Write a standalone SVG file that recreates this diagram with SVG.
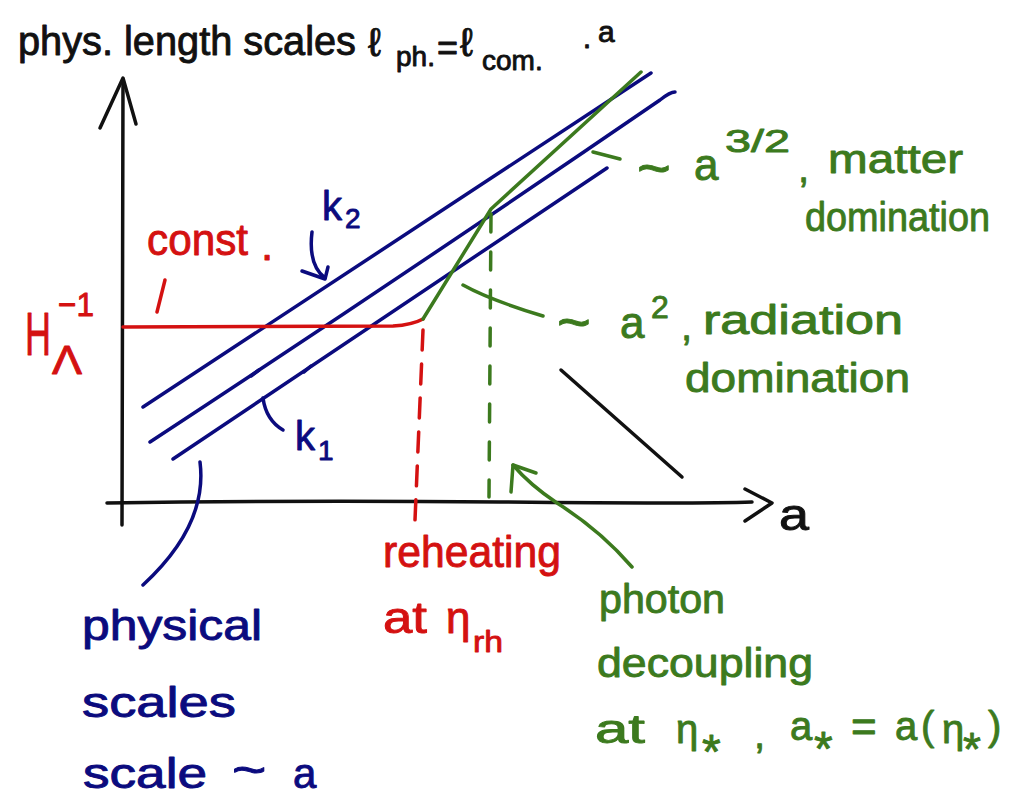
<svg xmlns="http://www.w3.org/2000/svg" width="1014" height="798" viewBox="0 0 1014 798">
<style>
.s{fill:none;stroke-linecap:round;stroke-linejoin:round;stroke-width:3.5}
.k{stroke:#111}.b{stroke:#0b0b7e}.r{stroke:#d41111}.g{stroke:#3c7a1e}
text{font-family:"Liberation Sans","DejaVu Sans",sans-serif;stroke-width:0.9;stroke-linejoin:round}
.tk{fill:#111;stroke:#111}.tb{fill:#0b0b7e;stroke:#0b0b7e}.tr{fill:#d41111;stroke:#d41111}.tg{fill:#3c7a1e;stroke:#3c7a1e}
</style>
<rect width="1014" height="798" fill="#fff"/>
<g id="title">
<text class="tk" font-size="40"><tspan x="18" y="55" textLength="338" lengthAdjust="spacingAndGlyphs">phys. length scales</tspan><tspan x="368" y="56">ℓ</tspan><tspan x="396" y="66" font-size="28">ph.</tspan><tspan x="437" y="60" font-size="36">=</tspan><tspan x="460" y="56">ℓ</tspan><tspan x="482" y="70" font-size="28">com.</tspan><tspan x="582" y="54" font-size="30">·</tspan><tspan x="598" y="42" font-size="30">a</tspan></text>
</g>
<g id="axes">
<path class="s k" d="M122,525 L123,80"/>
<path class="s k" d="M100,128 L123,78 L136,124"/>
<path class="s k" d="M107,503 Q300,500 500,502 T752,502"/>
<path class="s k" d="M745,489 L772,503 L745,521"/>
<text class="tk" x="779" y="530" font-size="44" textLength="30" lengthAdjust="spacingAndGlyphs">a</text>
</g>
<g id="connectors">
<path class="s b" d="M143,407 L651,73"/>
<path class="s b" d="M150,442 Q400,278 660,100 Q670,92 675,92"/>
<path class="s b" d="M173,459 L607,168"/>
<path class="s b" d="M251,376 L259,370 M304,372 L311,366"/>
<path class="s r" d="M123,327 L393,326 Q412,325 423,319"/>
<path class="s r" d="M423,330 L415,520" stroke-dasharray="20 14"/>
<path class="s g" d="M423,319 L491,209 L641,72"/>
<path class="s g" d="M491,214 L489,497" stroke-dasharray="18 20"/>
<path class="s k" d="M561,370 L682,477"/>
<path class="s g" d="M593,152 L620,159"/>
<path class="s g" d="M463,285 Q490,300 543,316"/>
<path class="s g" d="M632,567 Q600,530 557,503 Q530,485 513,465"/>
<path class="s g" d="M536,473 L513,465 L511,492"/>
<path class="s b" d="M312,232 Q308,265 325,278"/>
<path class="s b" d="M302,271 L325,279 L328,267"/>
<path class="s b" d="M263,398 Q266,420 283,430"/>
<path class="s b" d="M200,462 Q208,525 143,585"/>
<path class="s r" d="M157,312 L165,280"/>
</g>
<g id="hubble">
<text class="tr" font-size="62" transform="translate(25,355) scale(0.58,1)">H</text>
<text class="tr" x="58" y="316" font-size="34" textLength="36" lengthAdjust="spacingAndGlyphs">−1</text>
<text class="tr" x="52" y="374" font-size="40" textLength="30" lengthAdjust="spacingAndGlyphs">Λ</text>
<text class="tr" x="147" y="255" font-size="44" textLength="101" lengthAdjust="spacingAndGlyphs">const</text>
<text class="tr" x="261" y="260" font-size="44">.</text>
</g>
<g id="k-labels">
<text class="tb" x="322" y="220" font-size="40">k</text>
<text class="tb" x="345" y="228" font-size="28">2</text>
<text class="tb" x="295" y="450" font-size="40">k</text>
<text class="tb" x="318" y="460" font-size="28">1</text>
</g>
<g id="physical">
<text class="tb" x="82" y="640" font-size="42" textLength="180" lengthAdjust="spacingAndGlyphs">physical</text>
<text class="tb" x="82" y="717" font-size="42" textLength="154" lengthAdjust="spacingAndGlyphs">scales</text>
<text class="tb" font-size="42"><tspan x="83" y="788" textLength="124" lengthAdjust="spacingAndGlyphs">scale</tspan><tspan x="293" y="788">a</tspan></text>
<text class="tb" font-size="42" transform="translate(232,786) scale(1.4,1.1)">~</text>
</g>
<g id="matter">
<text class="tg" font-size="40"><tspan x="637" y="188" font-size="58">~</tspan><tspan x="694" y="180" font-size="44">a</tspan><tspan x="725" y="152" font-size="32" textLength="65" lengthAdjust="spacingAndGlyphs">3/2</tspan><tspan x="798" y="182">,</tspan><tspan x="828" y="173" textLength="135" lengthAdjust="spacingAndGlyphs">matter</tspan></text>
<text class="tg" x="805" y="231" font-size="40" textLength="185" lengthAdjust="spacingAndGlyphs">domination</text>
</g>
<g id="radiation">
<text class="tg" font-size="40"><tspan x="557" y="342" font-size="58">~</tspan><tspan x="620" y="338" font-size="44">a</tspan><tspan x="651" y="318" font-size="32">2</tspan><tspan x="681" y="340">,</tspan><tspan x="703" y="334" textLength="200" lengthAdjust="spacingAndGlyphs">radiation</tspan></text>
<text class="tg" x="685" y="392" font-size="40" textLength="225" lengthAdjust="spacingAndGlyphs">domination</text>
</g>
<g id="reheating">
<text class="tr" x="383" y="567" font-size="44" textLength="178" lengthAdjust="spacingAndGlyphs">reheating</text>
<text class="tr" font-size="44"><tspan x="383" y="633" textLength="44" lengthAdjust="spacingAndGlyphs">at</tspan><tspan x="446" y="633">η</tspan><tspan x="473" y="652" font-size="30" textLength="30" lengthAdjust="spacingAndGlyphs">rh</tspan></text>
</g>
<g id="decoupling">
<text class="tg" x="599" y="613" font-size="40" textLength="126" lengthAdjust="spacingAndGlyphs">photon</text>
<text class="tg" x="597" y="677" font-size="40" textLength="216" lengthAdjust="spacingAndGlyphs">decoupling</text>
<text class="tg" font-size="40"><tspan x="595" y="743" textLength="50" lengthAdjust="spacingAndGlyphs">at</tspan><tspan x="676" y="743">η</tspan><tspan x="702" y="768" font-size="48">*</tspan><tspan x="754" y="748">,</tspan><tspan x="790" y="740">a</tspan><tspan x="814" y="765" font-size="48">*</tspan><tspan x="851" y="742" font-size="44">=</tspan><tspan x="895" y="740">a</tspan><tspan x="921" y="740">(</tspan><tspan x="942" y="743">η</tspan><tspan x="963" y="765" font-size="46">*</tspan><tspan x="988" y="740">)</tspan></text>
</g>
</svg>
